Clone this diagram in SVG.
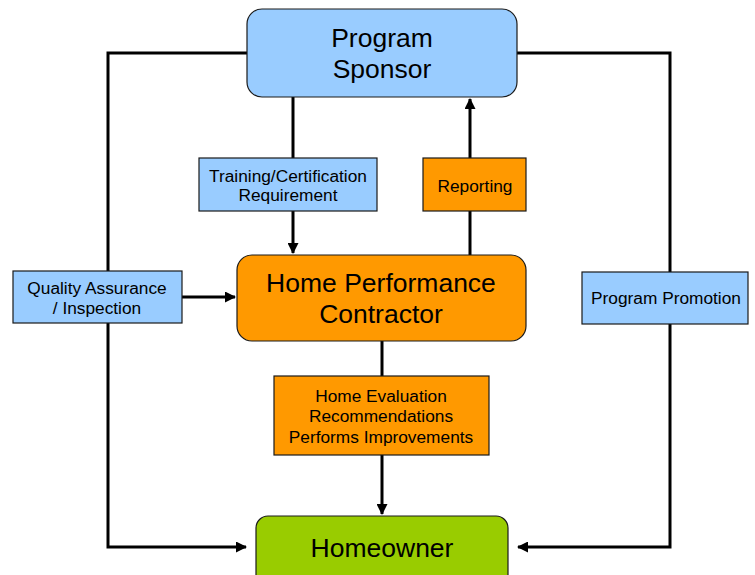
<svg xmlns="http://www.w3.org/2000/svg" width="755" height="575" viewBox="0 0 755 575">
<defs>
<marker id="ah" markerWidth="11" markerHeight="11" refX="10" refY="5.5" orient="auto" markerUnits="userSpaceOnUse">
<path d="M0,0 L11,5.5 L0,11 Z" fill="#000"/>
</marker>
<style>
text{font-family:"Liberation Sans",Arial,sans-serif;fill:#000;text-anchor:middle}
.big{font-size:26.5px}
.sm{font-size:17.3px}
.blue{fill:#99CCFF;stroke:#1a1a1a;stroke-width:1.2}
.orange{fill:#FF9900;stroke:#1a1a1a;stroke-width:1.2}
.green{fill:#99CC00;stroke:#1a1a1a;stroke-width:1.2}
.ln{fill:none;stroke:#000;stroke-width:3}
</style>
</defs>
<rect width="755" height="575" fill="#fff"/>
<g id="connectors">
<polyline class="ln" points="247,53 108,53 108,547 246,547" marker-end="url(#ah)"/>
<polyline class="ln" points="517,53 670,53 670,547 518,547" marker-end="url(#ah)"/>
<line class="ln" x1="293" y1="97" x2="293" y2="158"/>
<line class="ln" x1="293" y1="211" x2="293" y2="253" marker-end="url(#ah)"/>
<line class="ln" x1="470" y1="255" x2="470" y2="211"/>
<line class="ln" x1="470" y1="158" x2="470" y2="99" marker-end="url(#ah)"/>
<line class="ln" x1="182" y1="297" x2="235" y2="297" marker-end="url(#ah)"/>
<line class="ln" x1="382" y1="341" x2="382" y2="376"/>
<line class="ln" x1="382" y1="455" x2="382" y2="514" marker-end="url(#ah)"/>
</g>
<g id="sponsor">
<rect class="blue" x="247" y="9" width="270" height="88" rx="15"/>
<text class="big" x="382" y="47">Program</text>
<text class="big" x="382" y="78">Sponsor</text>
</g>
<g id="training">
<rect class="blue" x="199" y="158" width="178" height="53"/>
<text class="sm" x="288" y="182">Training/Certification</text>
<text class="sm" x="288" y="201">Requirement</text>
</g>
<g id="reporting">
<rect class="orange" x="423" y="158" width="103" height="53"/>
<text class="sm" x="475" y="192">Reporting</text>
</g>
<g id="qa">
<rect class="blue" x="13" y="271" width="169" height="52"/>
<text class="sm" x="97" y="294">Quality Assurance</text>
<text class="sm" x="97" y="314">/ Inspection</text>
</g>
<g id="contractor">
<rect class="orange" x="237" y="255" width="289" height="86" rx="15"/>
<text class="big" x="381" y="292">Home Performance</text>
<text class="big" x="381" y="323">Contractor</text>
</g>
<g id="promotion">
<rect class="blue" x="582" y="272" width="166" height="52"/>
<text class="sm" x="666" y="304">Program Promotion</text>
</g>
<g id="evaluation">
<rect class="orange" x="274" y="376" width="215" height="79"/>
<text class="sm" x="381" y="402">Home Evaluation</text>
<text class="sm" x="381" y="422">Recommendations</text>
<text class="sm" x="381" y="443">Performs Improvements</text>
</g>
<g id="homeowner">
<rect class="green" x="256" y="516" width="252" height="80" rx="12"/>
<text class="big" x="382" y="557">Homeowner</text>
</g>
</svg>
